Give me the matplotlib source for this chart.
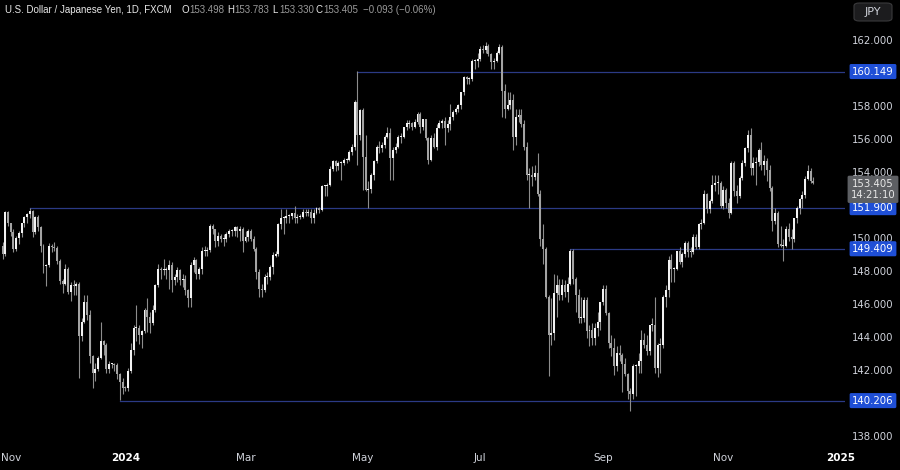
import matplotlib
matplotlib.use("Agg")
import matplotlib.pyplot as plt
from matplotlib.patches import FancyBboxPatch
import numpy as np
import pandas as pd

# ---------------- data (USD/JPY daily, FXCM) ----------------
start_date = "2023-10-30"

opens = [149.6, 149.1,
 151.65, 150.95, 150.45, 149.4, 150.05, 150.35, 150.95, 151.35, 151.5, 151.7, 150.4, 151.35, 150.7, 149.6, 148.35, 148.4, 149.55, 149.5, 149.45, 148.65, 147.45, 147.25,
 148.2, 146.8, 147.2, 147.15, 147.3, 144.1, 144.95, 146.2, 145.4, 142.9, 141.9, 142.15, 142.8, 143.8, 143.6, 142.1, 142.4, 142.4, 142.35, 141.8, 141.35,
 141.0, 140.95, 142.0, 143.3, 144.6, 144.6, 144.2, 144.4, 145.7, 145.3, 144.9, 145.7, 147.2, 148.2, 148.1, 148.1, 148.1, 148.4, 147.5, 147.7, 148.1, 147.5, 147.6,
 146.9, 146.45, 148.4, 148.7, 147.9, 148.2, 149.3, 149.3, 149.35, 150.8, 150.6, 149.9, 150.2, 150.0, 150.0, 150.3, 150.5, 150.5, 150.7, 150.5, 150.6,
 149.9, 150.1, 150.5, 150.0, 149.4, 148.0, 147.0, 146.9, 147.7, 147.7, 148.3, 149.0, 149.1, 150.9, 151.3, 151.3, 151.4, 151.4, 151.55, 151.3, 151.35,
 151.35, 151.65, 151.55, 151.65, 151.3, 151.6, 151.85, 151.75, 153.2, 153.2, 153.3, 154.25, 154.7, 154.4, 154.6, 154.6, 154.8, 154.8, 155.3, 155.6, 158.3, 156.3,
 157.8, 155.0, 153.0, 153.05, 153.9, 154.7, 155.6, 155.5, 155.7, 156.2, 156.4, 154.9, 155.4, 155.6, 156.2, 156.2, 156.8, 157.0, 157.0, 156.8, 157.1, 157.6, 156.8,
 157.3, 156.1, 154.8, 156.1, 155.6, 156.75, 157.05, 157.15, 156.7, 157.0, 157.4, 157.7, 157.85, 158.1, 158.9, 159.8, 159.7, 159.7, 160.8, 160.8,
 160.9, 161.5, 161.45, 161.7, 161.2, 160.75, 160.8, 161.3, 161.65, 159.0, 157.9, 158.1, 158.4, 156.2, 157.4, 157.5, 157.0, 155.6, 153.9, 153.9, 153.75, 154.0, 152.7,
 150.0, 149.4, 146.5, 144.2, 144.3, 146.7, 147.2, 146.6, 147.2, 146.8, 147.3, 149.3, 147.6, 146.6, 145.2, 145.2, 146.3, 144.4, 144.5, 144.0, 144.6, 145.0,
 146.2, 147.0, 145.5, 143.7, 143.4, 142.3, 143.1, 143.0, 142.4, 141.8, 140.8, 140.6, 142.3, 142.3, 142.6, 143.85, 143.6, 143.2, 144.8, 144.8, 142.2,
 143.6, 143.6, 146.5, 146.9, 148.7, 148.2, 148.2, 149.3, 148.6, 149.1, 149.75, 149.2, 149.2, 150.1, 149.5, 150.9, 151.0, 152.7, 151.8, 152.3, 153.3, 153.4, 153.4,
 152.0, 153.0, 152.2, 151.6, 154.6, 152.9, 152.6, 153.7, 154.6, 155.5, 156.3, 154.3, 154.6, 154.65, 155.4, 154.5, 154.7, 154.2, 153.1, 151.1, 151.6,
 149.7, 149.6, 149.6, 150.6, 150.1, 150.0, 151.3, 151.9, 152.4, 152.65, 153.65, 154.15, 153.498]

highs = [149.8, 151.7,
 151.7, 151.0, 150.6, 150.2, 150.5, 151.0, 151.4, 151.6, 151.9, 151.75, 151.4, 151.45, 150.8, 149.7, 148.5, 149.75, 149.7, 149.8, 149.6, 148.8, 147.6, 148.5,
 148.3, 147.4, 147.5, 147.4, 147.4, 145.2, 146.6, 146.6, 145.7, 143.0, 142.5, 142.9, 144.95, 143.9, 143.7, 142.6, 142.5, 142.5, 142.5, 141.9, 141.6,
 141.1, 142.2, 143.7, 144.8, 145.98, 144.8, 144.5, 145.8, 146.4, 145.6, 146.0, 147.3, 148.5, 148.3, 148.8, 148.3, 148.7, 148.6, 147.9, 148.3, 148.2, 147.9, 147.8,
 147.0, 148.6, 148.9, 148.8, 148.3, 149.5, 149.6, 149.5, 150.9, 150.9, 150.6, 150.4, 150.3, 150.3, 150.4, 150.6, 150.6, 150.8, 150.8, 150.8, 150.7,
 150.5, 150.6, 150.6, 150.2, 149.5, 148.2, 147.3, 147.9, 148.0, 148.4, 149.2, 149.3, 150.95, 151.8, 151.4, 151.8, 151.5, 151.6, 151.97, 151.5, 151.5,
 151.8, 151.8, 151.8, 151.8, 151.8, 151.95, 151.95, 153.25, 153.3, 153.4, 154.45, 154.8, 154.8, 154.7, 154.7, 154.9, 154.9, 155.4, 155.75, 158.4, 160.2, 157.9,
 157.95, 156.3, 153.5, 154.0, 154.8, 155.7, 155.95, 155.9, 156.3, 156.8, 156.7, 155.6, 155.8, 156.3, 156.4, 156.8, 157.2, 157.2, 157.1, 157.3, 157.7, 157.7, 157.3,
 157.3, 156.2, 156.3, 156.4, 157.0, 157.2, 157.3, 157.4, 157.2, 158.2, 157.8, 158.0, 158.2, 158.9, 159.9, 159.9, 159.8, 160.9, 160.9, 161.3,
 161.7, 161.75, 161.95, 161.8, 161.3, 161.0, 161.4, 161.8, 161.75, 159.4, 158.9, 158.9, 158.8, 157.9, 157.9, 157.9, 157.2, 155.9, 154.3, 154.4, 154.5, 155.2, 153.0,
 150.9, 149.5, 146.6, 146.4, 147.9, 147.8, 147.6, 147.6, 147.5, 147.7, 149.4, 149.4, 147.7, 147.0, 146.5, 146.5, 146.5, 144.8, 144.9, 144.9, 145.6, 146.2,
 147.2, 147.2, 145.6, 144.2, 144.0, 143.5, 143.6, 143.1, 142.8, 141.9, 141.0, 142.4, 142.4, 143.1, 144.5, 144.3, 144.2, 144.8, 145.2, 146.5, 143.7,
 144.0, 146.6, 147.2, 149.0, 149.1, 148.3, 149.3, 149.5, 149.2, 149.9, 149.9, 149.5, 150.3, 150.3, 151.0, 151.2, 153.0, 152.8, 152.4, 153.9, 153.9, 153.9, 153.5,
 153.2, 153.1, 152.5, 154.7, 154.7, 153.3, 153.8, 154.8, 155.6, 156.6, 156.75, 155.0, 155.0, 155.5, 155.9, 155.1, 154.9, 154.5, 153.2, 151.9, 151.7,
 150.8, 150.0, 150.8, 151.0, 150.6, 151.3, 152.0, 152.5, 152.9, 153.8, 154.5, 154.3, 153.783]

lows = [148.8, 149.0,
 150.8, 150.2, 149.2, 149.3, 149.7, 150.1, 150.7, 151.0, 151.3, 150.15, 150.3, 150.5, 149.2, 147.95, 147.15, 148.3, 149.2, 149.3, 148.5, 147.3, 146.7, 147.2,
 146.65, 146.25, 146.6, 146.6, 141.6, 143.8, 144.9, 145.1, 142.5, 140.95, 141.4, 142.0, 142.7, 143.0, 141.9, 141.9, 142.2, 142.0, 141.5, 140.25, 140.6,
 140.8, 140.8, 141.9, 143.0, 143.8, 143.65, 143.4, 144.3, 144.35, 144.3, 144.8, 145.6, 147.1, 147.6, 147.8, 147.6, 146.98, 146.8, 147.2, 147.4, 147.2, 147.1, 146.6,
 145.9, 145.9, 148.0, 147.6, 147.6, 147.9, 149.0, 149.0, 149.2, 150.3, 149.5, 149.6, 149.8, 149.6, 149.8, 150.1, 150.2, 150.2, 150.1, 149.9, 149.2,
 149.8, 149.9, 149.9, 149.3, 147.6, 146.5, 146.5, 146.8, 147.3, 147.5, 147.9, 148.9, 149.0, 150.6, 150.3, 151.0, 151.0, 151.2, 151.0, 151.0, 151.2,
 151.3, 151.4, 151.4, 151.0, 151.0, 151.5, 151.6, 151.7, 152.6, 152.6, 153.2, 154.1, 154.1, 154.2, 153.6, 154.5, 154.6, 154.7, 155.1, 155.4, 154.5, 156.0,
 153.0, 152.9, 151.86, 152.8, 153.6, 154.6, 155.2, 155.3, 155.5, 156.1, 153.6, 153.6, 155.2, 155.5, 155.8, 156.1, 156.6, 156.7, 156.6, 156.7, 157.0, 156.4, 156.6,
 156.0, 154.55, 154.7, 155.5, 155.4, 156.7, 156.7, 155.7, 156.5, 156.6, 157.2, 157.6, 157.7, 157.9, 158.7, 159.4, 159.4, 159.6, 160.3, 160.4,
 160.8, 161.3, 161.3, 161.1, 160.3, 160.3, 160.7, 161.2, 157.4, 157.35, 157.8, 157.9, 155.4, 155.7, 157.1, 156.8, 155.4, 153.6, 151.9, 153.2, 153.6, 152.6, 149.6,
 148.5, 146.4, 141.7, 143.6, 143.9, 145.3, 146.3, 146.3, 146.5, 146.2, 147.2, 147.3, 145.6, 144.9, 144.9, 145.0, 144.0, 143.5, 143.6, 143.6, 144.1, 144.5,
 146.0, 145.4, 143.4, 142.9, 141.75, 142.0, 142.6, 140.7, 141.7, 140.3, 139.58, 140.3, 140.5, 141.9, 141.9, 143.4, 143.0, 143.0, 144.4, 141.9, 141.65,
 141.9, 143.4, 145.9, 146.5, 147.4, 147.4, 148.1, 148.5, 148.3, 148.9, 148.9, 148.9, 149.1, 149.4, 149.4, 150.6, 150.9, 151.6, 151.6, 152.2, 152.9, 152.7, 151.9,
 151.8, 151.9, 151.3, 151.5, 152.6, 152.2, 152.5, 153.6, 154.4, 155.3, 153.85, 153.9, 153.3, 154.4, 154.2, 153.9, 153.5, 152.9, 150.5, 150.9, 149.5,
 149.5, 148.65, 149.5, 149.9, 149.4, 149.8, 151.0, 151.5, 151.9, 152.5, 153.6, 153.4, 153.33]

closes = [149.1, 151.65,
 150.95, 150.45, 149.4, 150.05, 150.35, 150.95, 151.35, 151.5, 151.7, 150.4, 151.35, 150.7, 149.6, 148.35, 148.4, 149.55, 149.5, 149.45, 148.65, 147.45, 147.25, 148.2,
 146.8, 147.2, 147.15, 147.3, 144.1, 144.95, 146.2, 145.4, 142.9, 141.9, 142.15, 142.8, 143.8, 143.6, 142.1, 142.4, 142.4, 142.35, 141.8, 141.35, 141.0,
 140.95, 142.0, 143.3, 144.6, 144.6, 144.2, 144.4, 145.7, 145.3, 144.9, 145.7, 147.2, 148.2, 148.1, 148.1, 148.1, 148.4, 147.5, 147.7, 148.1, 147.5, 147.6, 146.9,
 146.45, 148.4, 148.7, 147.9, 148.2, 149.3, 149.3, 149.35, 150.8, 150.6, 149.9, 150.2, 150.0, 150.0, 150.3, 150.5, 150.5, 150.7, 150.5, 150.6, 149.9,
 150.1, 150.5, 150.0, 149.4, 148.0, 147.0, 146.9, 147.7, 147.7, 148.3, 149.0, 149.1, 150.9, 151.3, 151.3, 151.4, 151.4, 151.55, 151.3, 151.35, 151.35,
 151.65, 151.55, 151.65, 151.3, 151.6, 151.85, 151.75, 153.2, 153.2, 153.3, 154.25, 154.7, 154.4, 154.6, 154.6, 154.8, 154.8, 155.3, 155.6, 158.3, 156.3, 157.8,
 155.0, 153.0, 153.05, 153.9, 154.7, 155.6, 155.5, 155.7, 156.2, 156.4, 154.9, 155.4, 155.6, 156.2, 156.2, 156.8, 157.0, 157.0, 156.8, 157.1, 157.6, 156.8, 157.3,
 156.1, 154.8, 156.1, 155.6, 156.75, 157.05, 157.15, 156.7, 157.0, 157.4, 157.7, 157.85, 158.1, 158.9, 159.8, 159.7, 159.7, 160.8, 160.8, 160.9,
 161.5, 161.45, 161.7, 161.2, 160.75, 160.8, 161.3, 161.65, 159.0, 157.9, 158.1, 158.4, 156.2, 157.4, 157.5, 157.0, 155.6, 153.9, 153.9, 153.75, 154.0, 152.7, 150.0,
 149.4, 146.5, 144.2, 144.3, 146.7, 147.2, 146.6, 147.2, 146.8, 147.3, 149.3, 147.6, 146.6, 145.2, 145.2, 146.3, 144.4, 144.5, 144.0, 144.6, 145.0, 146.2,
 147.0, 145.5, 143.7, 143.4, 142.3, 143.1, 143.0, 142.4, 141.8, 140.8, 140.6, 142.3, 142.3, 142.6, 143.85, 143.6, 143.2, 144.8, 144.8, 142.2, 143.6,
 143.6, 146.5, 146.9, 148.7, 148.2, 148.2, 149.3, 148.6, 149.1, 149.75, 149.2, 149.2, 150.1, 149.5, 150.9, 151.0, 152.7, 151.8, 152.3, 153.3, 153.4, 153.4, 152.0,
 153.0, 152.2, 151.6, 154.6, 152.9, 152.6, 153.7, 154.6, 155.5, 156.3, 154.3, 154.6, 154.65, 155.4, 154.5, 154.7, 154.2, 153.1, 151.1, 151.6, 149.7,
 149.6, 149.6, 150.6, 150.1, 150.0, 151.3, 151.9, 152.4, 152.65, 153.65, 154.15, 153.5, 153.405]

# horizontal levels: (price, date where the line starts)
level_prices = [160.149, 151.900, 149.409, 140.206]
level_starts = ["2024-04-29", "2023-11-13", "2024-08-15", "2023-12-28"]

# price scale labels that stay visible (160, 152, 140 are hidden behind level tags)
price_ticks = [138, 142, 144, 146, 148, 150, 154, 156, 158, 162]
month_ticks = ["2023-11-01", "2024-01-01", "2024-03-01", "2024-05-01", "2024-07-01",
               "2024-09-02", "2024-11-01", "2025-01-01"]
month_labels = ["Nov", "2024", "Mar", "May", "Jul", "Sep", "Nov", "2025"]

title = "U.S. Dollar / Japanese Yen, 1D, FXCM"
ohlc_keys = ["O", "H", "L", "C"]
ohlc_vals = ["153.498", "153.783", "153.330", "153.405"]
change_text = "\u22120.093 (\u22120.06%)"
last_price = "153.405"
countdown = "14:21:10"

# ---------------- figure ----------------
W, H = 900, 470
fig = plt.figure(figsize=(W / 100, H / 100), dpi=100)
fig.patch.set_facecolor("black")

ax_l, ax_r, ax_t, ax_b = 0, 845, 0, 448
ax = fig.add_axes([ax_l / W, 1 - ax_b / H, (ax_r - ax_l) / W, (ax_b - ax_t) / H])
ax.set_facecolor("black")
for s in ax.spines.values():
    s.set_visible(False)
ax.set_xticks([])
ax.set_yticks([])

n = len(closes)
all_days = pd.bdate_range(start_date, "2025-01-10")
pos = {d.strftime("%Y-%m-%d"): i for i, d in enumerate(all_days)}

px_per_bar = 2.73
x0_px = 2.54
xlim = ((0 - x0_px) / px_per_bar, (ax_r - x0_px) / px_per_bar)
ax.set_xlim(*xlim)

ppu = 16.5
y162 = 41
ax.set_ylim(162 - (ax_b - y162) / ppu, 162 + (y162 - ax_t) / ppu)

o = np.array(opens); h = np.array(highs); l = np.array(lows); c = np.array(closes)
x = np.arange(n)
up = c >= o
up_col = "#f2f2f2"
dn_col = "#a3a3a3"
wick_col = "#8d8d8d"

ax.vlines(x, l, h, color=wick_col, linewidth=0.8, zorder=2)
body_h = np.maximum(np.abs(c - o), 0.06)
body_b = np.minimum(o, c)
ax.bar(x[up], body_h[up], bottom=body_b[up], width=0.72, color=up_col, linewidth=0, zorder=3)
ax.bar(x[~up], body_h[~up], bottom=body_b[~up], width=0.72, color=dn_col, linewidth=0, zorder=3)

level_col = "#2b3a85"
for p, sd in zip(level_prices, level_starts):
    ax.plot([pos[sd], xlim[1]], [p, p], color=level_col, linewidth=0.9, zorder=1)

# ---------------- texts ----------------
def fy_px(ypx):
    return 1 - ypx / H

def py(price):
    return y162 + (162 - price) * ppu

label_x = 873 / W
for p in price_ticks:
    fig.text(label_x, fy_px(py(p)), f"{p:.3f}", color="#d1d4dc", fontsize=7.3,
             ha="center", va="center", family="DejaVu Sans")

blue = "#1f4fd6"
for p in level_prices:
    fig.text(label_x, fy_px(py(p)), f"{p:.3f}", color="white", fontsize=7.3, ha="center", va="center",
             family="DejaVu Sans",
             bbox=dict(boxstyle="round,pad=0.25,rounding_size=0.15", fc=blue, ec="none"))

fig.text(label_x, fy_px(py(153.405) + 6.5), f"{last_price}\n{countdown}", color="#e8e8e8", fontsize=7.3,
         ha="center", va="center", family="DejaVu Sans", linespacing=1.15,
         bbox=dict(boxstyle="round,pad=0.3,rounding_size=0.15", fc="#5d5f63", ec="none"))

# JPY button
fig.patches.append(FancyBboxPatch((854 / W, 1 - 21 / H), 38 / W, 18 / H,
                                  boxstyle="round,pad=0,rounding_size=0.006",
                                  transform=fig.transFigure, fc="#1c1c1e", ec="#3a3a3c", lw=0.8))
fig.text(873 / W, 1 - 12 / H, "JPY", color="#d1d4dc", fontsize=8, ha="center", va="center")

# x labels
for d, lab in zip(month_ticks, month_labels):
    xp = x0_px + pos[d] * px_per_bar
    bold = lab.isdigit()
    ha = "center"
    if xp < 12:
        xp, ha = 1, "left"
    fig.text(xp / W, fy_px(458), lab, color="white" if bold else "#d1d4dc",
             fontsize=7.5, ha=ha, va="center", fontweight="bold" if bold else "normal")

# title line
tf = "Liberation Sans"
fs = 7.0
fig.text(5 / W, fy_px(10), title, color="#e8e8e8", fontsize=fs, ha="left", va="center", family=tf)
key_x = [182, 227, 272, 316]
for k, v, xp in zip(ohlc_keys, ohlc_vals, key_x):
    fig.text(xp / W, fy_px(10), k, color="#e8e8e8", fontsize=fs, ha="left", va="center", family=tf)
    fig.text((xp + 7) / W, fy_px(10), v, color="#9a9a9a", fontsize=fs, ha="left", va="center", family=tf)
fig.text(363 / W, fy_px(10), change_text, color="#9a9a9a", fontsize=fs, ha="left", va="center", family=tf)

fig.savefig("out.png", dpi=100, facecolor="black")
